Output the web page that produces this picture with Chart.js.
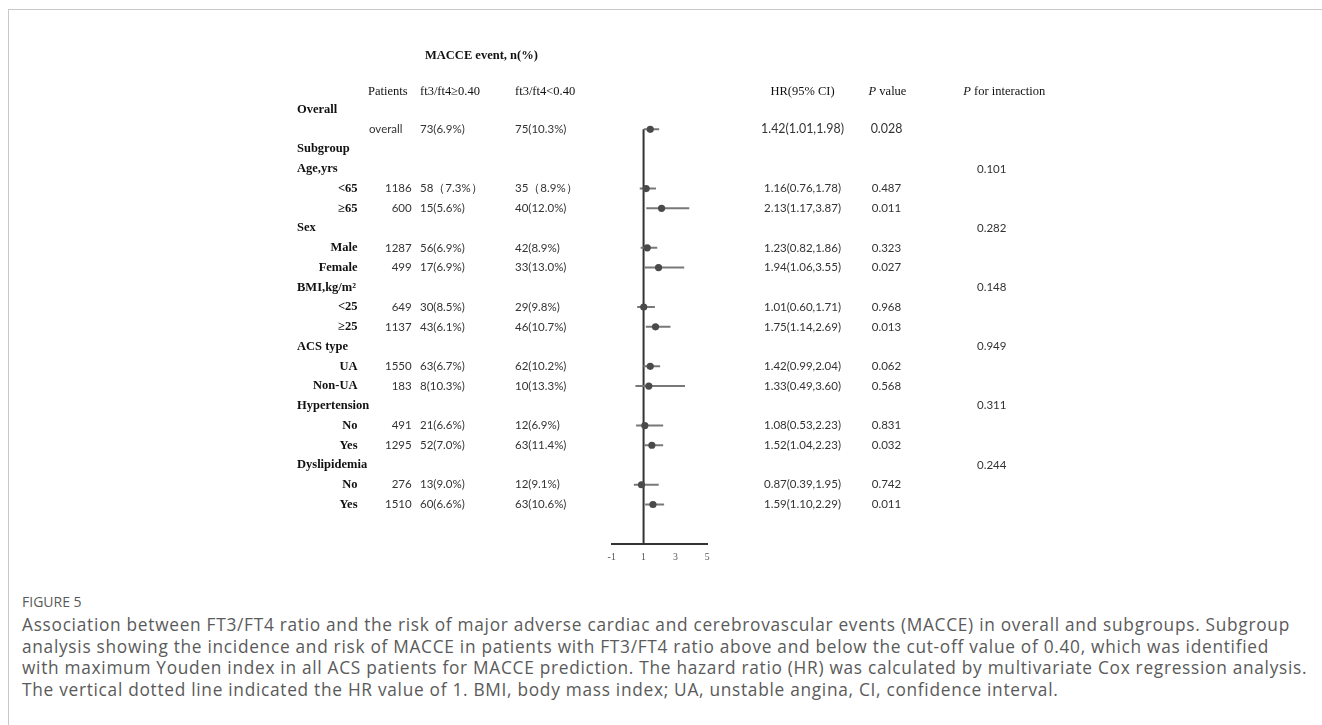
<!DOCTYPE html>
<html>
<head>
<meta charset="utf-8">
<title>MACCE subgroup forest plot</title>
<script src="https://cdn.jsdelivr.net/npm/chart.js@4.4.1/dist/chart.umd.min.js"></script>
<style>
  html, body { margin: 0; padding: 0; background: #fff; width: 1322px; height: 725px; overflow: hidden; }
  #frame { position: absolute; left: 8px; top: 9px; width: 1314px; height: 716px;
           border-top: 1px solid #c8c8c8; border-left: 1px solid #c8c8c8; box-sizing: border-box; }
  #plot { position: absolute; left: 0; top: 0; z-index: 2; }
  #caption { position: absolute; left: 22px; top: 591px; font-family: 'Open Sans', sans-serif;
             color: #5a5a5a; white-space: nowrap; }
  #caption .fig { font-size: 14px; line-height: 22px; }
  #caption .txt { font-size: 17.3px; line-height: 21.7px; margin-top: 1px; }
  #caption .txt span { display: block; }
</style>
</head>
<body>
<div id="frame"></div>
<canvas id="plot" width="1322" height="580"></canvas>
<div id="caption">
  <div class="fig">FIGURE 5</div>
  <div class="txt">
    <span>Association between FT3/FT4 ratio and the risk of major adverse cardiac and cerebrovascular events (MACCE) in overall and subgroups. Subgroup</span>
    <span>analysis showing the incidence and risk of MACCE in patients with FT3/FT4 ratio above and below the cut-off value of 0.40, which was identified</span>
    <span>with maximum Youden index in all ACS patients for MACCE prediction. The hazard ratio (HR) was calculated by multivariate Cox regression analysis.</span>
    <span>The vertical dotted line indicated the HR value of 1. BMI, body mass index; UA, unstable angina, CI, confidence interval.</span>
  </div>
</div>
<script>
// ---- table content ----
const titleText = 'MACCE event, n(%)';
const headerLabels = ['Patients', 'ft3/ft4\u22650.40', 'ft3/ft4<0.40', 'HR(95% CI)', 'P value', 'P for interaction'];

const groupLabels = ['Overall', 'Subgroup', 'Age,yrs', 'Sex', 'BMI,kg/m\u00b2', 'ACS type', 'Hypertension', 'Dyslipidemia'];
const groupItemCounts = [1, 0, 2, 2, 2, 2, 2, 2];
const pInteraction = ['', '', '0.101', '0.282', '0.148', '0.949', '0.311', '0.244'];

const itemLabels = ['overall', '<65', '\u226565', 'Male', 'Female', '<25', '\u226525', 'UA', 'Non-UA', 'No', 'Yes', 'No', 'Yes'];
const patients = ['', '1186', '600', '1287', '499', '649', '1137', '1550', '183', '491', '1295', '276', '1510'];
const eventsHigh = ['73(6.9%)', '58\uff087.3%\uff09', '15(5.6%)', '56(6.9%)', '17(6.9%)', '30(8.5%)', '43(6.1%)',
                    '63(6.7%)', '8(10.3%)', '21(6.6%)', '52(7.0%)', '13(9.0%)', '60(6.6%)'];
const eventsLow = ['75(10.3%)', '35\uff088.9%\uff09', '40(12.0%)', '42(8.9%)', '33(13.0%)', '29(9.8%)', '46(10.7%)',
                   '62(10.2%)', '10(13.3%)', '12(6.9%)', '63(11.4%)', '12(9.1%)', '63(10.6%)'];
const hazardRatio = [1.42, 1.16, 2.13, 1.23, 1.94, 1.01, 1.75, 1.42, 1.33, 1.08, 1.52, 0.87, 1.59];
const ciLower = [1.01, 0.76, 1.17, 0.82, 1.06, 0.60, 1.14, 0.99, 0.49, 0.53, 1.04, 0.39, 1.10];
const ciUpper = [1.98, 1.78, 3.87, 1.86, 3.55, 1.71, 2.69, 2.04, 3.60, 2.23, 2.23, 1.95, 2.29];
const pValues = ['0.028', '0.487', '0.011', '0.323', '0.027', '0.968', '0.013', '0.062', '0.568', '0.831', '0.032', '0.742', '0.011'];

const axisTicks = [-1, 1, 3, 5];
const referenceHR = 1;

// ---- row layout: each group heading followed by its item rows ----
const groupRow = [];
const itemRow = [];
(function () {
  let r = 0;
  groupLabels.forEach((g, i) => {
    groupRow.push(r++);
    for (let k = 0; k < groupItemCounts[i]; k++) itemRow.push(r++);
  });
})();
const rowMin = -1, rowMax = 22;
const xMin = axisTicks[0], xMax = axisTicks[axisTicks.length - 1];

// column anchors (px)
const COL = {
  group: 297, item: 357.5, patients: 411.7, overallWord: 369, patientsHead: 368,
  high: 420, low: 515, hr: 802.5, p: 886.5, inter: 977, interHead: 1004.3, title: 425
};
const FONT = {
  serifBold: "bold 12.5px 'Liberation Serif', 'Times New Roman', serif",
  serif: "12.5px 'Liberation Serif', 'Times New Roman', serif",
  serifItalic: "italic 12.5px 'Liberation Serif', 'Times New Roman', serif",
  sans: "11.5px Lato, 'Open Sans', sans-serif",
  sansLarge: "12.4px Lato, 'Open Sans', sans-serif"
};

function drawItalicLead(ctx, lead, rest, cx, y) {
  ctx.font = FONT.serifItalic;
  const w1 = ctx.measureText(lead).width;
  ctx.font = FONT.serif;
  const w2 = ctx.measureText(rest).width;
  const x0 = cx - (w1 + w2) / 2;
  ctx.textAlign = 'left';
  ctx.font = FONT.serifItalic;
  ctx.fillText(lead, x0, y);
  ctx.font = FONT.serif;
  ctx.fillText(rest, x0 + w1, y);
}

const tablePlugin = {
  id: 'subgroupTable',
  afterDraw(chart) {
    const ctx = chart.ctx;
    const xs = chart.scales.x;
    const ys = chart.scales.y;
    const rowY = r => ys.getPixelForValue(r);
    ctx.save();

    // horizontal axis line along the bottom of the plot
    const ay = Math.round(rowY(rowMax));
    ctx.setLineDash([]);
    ctx.globalAlpha = 1;
    ctx.globalCompositeOperation = 'source-over';
    ctx.fillStyle = '#333';
    const ax0 = xs.getPixelForValue(xMin), ax1 = xs.getPixelForValue(xMax);
    ctx.fillRect(ax0, ay - 1, ax1 - ax0, 2);

    ctx.textBaseline = 'middle';

    // title and column headings
    ctx.fillStyle = '#111';
    ctx.font = FONT.serifBold;
    ctx.textAlign = 'left';
    ctx.fillText(titleText, COL.title, rowY(-2.72));

    const hy = rowY(-0.9);
    ctx.font = FONT.serif;
    ctx.fillText(headerLabels[0], COL.patientsHead, hy);
    ctx.fillText(headerLabels[1], COL.high, hy);
    ctx.fillText(headerLabels[2], COL.low, hy);
    ctx.textAlign = 'center';
    ctx.fillText(headerLabels[3], COL.hr, hy);
    drawItalicLead(ctx, headerLabels[4].slice(0, 1), headerLabels[4].slice(1), COL.p + 1, hy);
    drawItalicLead(ctx, headerLabels[5].slice(0, 1), headerLabels[5].slice(1), COL.interHead, hy);

    // group headings and interaction p values
    groupLabels.forEach((g, i) => {
      const y = rowY(groupRow[i]);
      ctx.fillStyle = '#111';
      ctx.font = FONT.serifBold;
      ctx.textAlign = 'left';
      ctx.fillText(g, COL.group, y);
      if (pInteraction[i]) {
        ctx.fillStyle = '#333';
        ctx.font = FONT.sans;
        ctx.fillText(pInteraction[i], COL.inter, y);
      }
    });

    // item rows
    itemLabels.forEach((lab, i) => {
      const y = rowY(itemRow[i]);
      const first = i === 0;
      ctx.fillStyle = '#333';
      ctx.font = FONT.sans;
      if (first) {
        ctx.textAlign = 'left';
        ctx.fillText(lab, COL.overallWord, y);
      } else {
        ctx.fillStyle = '#111';
        ctx.font = FONT.serifBold;
        ctx.textAlign = 'right';
        ctx.fillText(lab, COL.item, y);
        ctx.fillStyle = '#333';
        ctx.font = FONT.sans;
        ctx.fillText(patients[i], COL.patients, y);
      }
      ctx.textAlign = 'left';
      ctx.fillText(eventsHigh[i], COL.high, y);
      ctx.fillText(eventsLow[i], COL.low, y);
      ctx.textAlign = 'center';
      ctx.font = first ? FONT.sansLarge : FONT.sans;
      const hrText = hazardRatio[i].toFixed(2) + '(' + ciLower[i].toFixed(2) + ',' + ciUpper[i].toFixed(2) + ')';
      ctx.fillText(hrText, COL.hr, y);
      ctx.fillText(pValues[i], COL.p, y);
    });
    ctx.restore();
  }
};

const chartHeight = 580, axisBottomPx = 544, xAxisBand = 30;

// one short line per row for the 95% confidence intervals
const ciDatasets = itemRow.map((r, i) => ({
  type: 'line',
  label: 'CI ' + itemLabels[i],
  data: [{ x: ciLower[i], y: r }, { x: ciUpper[i], y: r }],
  borderColor: '#787878',
  borderWidth: 2,
  pointRadius: 0,
  fill: false
}));

new Chart(document.getElementById('plot'), {
  type: 'scatter',
  data: {
    datasets: [
      {
        label: 'HR',
        data: itemRow.map((r, i) => ({ x: hazardRatio[i], y: r })),
        pointRadius: 3.6,
        pointBackgroundColor: '#4a4a4a',
        pointBorderWidth: 0
      },
      ...ciDatasets,
      {
        type: 'line',
        label: 'HR = 1',
        data: [{ x: referenceHR, y: itemRow[0] }, { x: referenceHR, y: rowMax }],
        borderColor: '#333',
        borderWidth: 2,
        pointRadius: 0,
        fill: false,
        clip: false
      },
      {
        type: 'line',
        label: 'axis',
        data: [{ x: xMin, y: rowMax }, { x: xMax, y: rowMax }],
        borderColor: '#333',
        borderWidth: 2,
        pointRadius: 0,
        fill: false,
        clip: false
      }
    ]
  },
  options: {
    responsive: false,
    devicePixelRatio: 1,
    animation: false,
    layout: {
      padding: { left: 611.7, right: 1322 - 707.3, top: 89.85, bottom: chartHeight - axisBottomPx - xAxisBand }
    },
    plugins: { legend: { display: false }, tooltip: { enabled: false } },
    scales: {
      x: {
        type: 'linear',
        min: xMin,
        max: xMax,
        afterBuildTicks: s => { s.ticks = axisTicks.map(v => ({ value: v })); },
        afterFit: s => { s.height = xAxisBand; },
        grid: { display: false, tickLength: 4 },
        border: { display: true, color: '#333', width: 2 },
        ticks: { color: '#555', padding: 4, font: { family: "'Liberation Serif', serif", size: 9.8 } }
      },
      y: {
        type: 'linear',
        reverse: true,
        min: rowMin,
        max: rowMax,
        display: false
      }
    }
  },
  plugins: [tablePlugin]
});

// widen caption tracking so the first line spans the caption column
(function () {
  const lines = document.querySelectorAll('#caption .txt span');
  const targetWidth = 1268;
  const probe = lines[0];
  probe.style.display = 'inline-block';
  const natural = probe.getBoundingClientRect().width;
  probe.style.display = '';
  const chars = probe.textContent.length;
  const spacing = (targetWidth - natural) / chars;
  lines.forEach(l => { l.style.letterSpacing = spacing.toFixed(3) + 'px'; });
})();
</script>
</body>
</html>
